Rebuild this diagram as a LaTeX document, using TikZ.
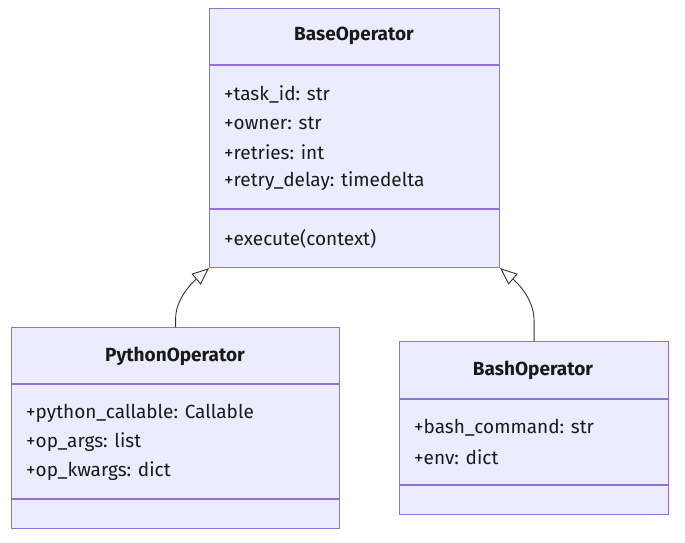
\documentclass[tikz,border=0pt]{standalone}
\usepackage{fontspec}
\setmainfont{Fira Sans}
\usetikzlibrary{arrows.meta}
\definecolor{boxfill}{HTML}{ECECFF}
\definecolor{boxline}{HTML}{9370DB}
\definecolor{txt}{HTML}{1A1A1A}
\definecolor{edge}{HTML}{333333}
\tikzset{
  classbox/.style={draw=boxline, fill=boxfill, line width=1.2pt, anchor=north west, inner sep=0pt},
  divider/.style={draw=boxline, line width=1.2pt},
  title/.style={font=\fontsize{19}{22}\selectfont\bfseries, text=txt, anchor=center, inner sep=0pt},
  member/.style={font=\fontsize{19}{22}\selectfont, text=txt, anchor=west, inner sep=0pt},
  inherit/.style={draw=edge, line width=0.9pt, -{Triangle[open, length=17pt, width=14pt, fill=white]}}
}
\begin{document}
\begin{tikzpicture}[x=1pt, y=-1pt]
\useasboundingbox (0,0) rectangle (685,543);
% BaseOperator
\node[classbox, minimum width=290pt, minimum height=259pt] (base) at (209,8) {};
\draw[divider] (209,65) -- (499,65);
\draw[divider] (209,209) -- (499,209);
\node[title] (baset) at (354,36) {BaseOperator};
\node[member] (b1) at (224,94) {+task\_id: str};
\node[member] (b2) at (224,123) {+owner: str};
\node[member] (b3) at (224,152) {+retries: int};
\node[member] (b4) at (224,181) {+retry\_delay: timedelta};
\node[member] (b5) at (224,239) {+execute(context)};
% PythonOperator
\node[classbox, minimum width=328pt, minimum height=201pt] (py) at (11,327) {};
\draw[divider] (11,384) -- (339,384);
\draw[divider] (11,499) -- (339,499);
\node[title] (pyt) at (175,356) {PythonOperator};
\node[member] (p1) at (26,413) {+python\_callable: Callable};
\node[member] (p2) at (26,442) {+op\_args: list};
\node[member] (p3) at (26,471) {+op\_kwargs: dict};
% BashOperator
\node[classbox, minimum width=269pt, minimum height=173pt] (bash) at (399,341) {};
\draw[divider] (399,399) -- (668,399);
\draw[divider] (399,485) -- (668,485);
\node[title] (basht) at (533,370) {BashOperator};
\node[member] (s1) at (414,428) {+bash\_command: str};
\node[member] (s2) at (414,457) {+env: dict};
% inheritance
\draw[inherit] (py.north) -- ++(0,-8) .. controls ++(0,-22) and ++(-14,12) .. (base.south west);
\draw[inherit] (bash.north) -- ++(0,-20) .. controls ++(0,-24) and ++(14,12) .. (base.south east);
\end{tikzpicture}
\end{document}
